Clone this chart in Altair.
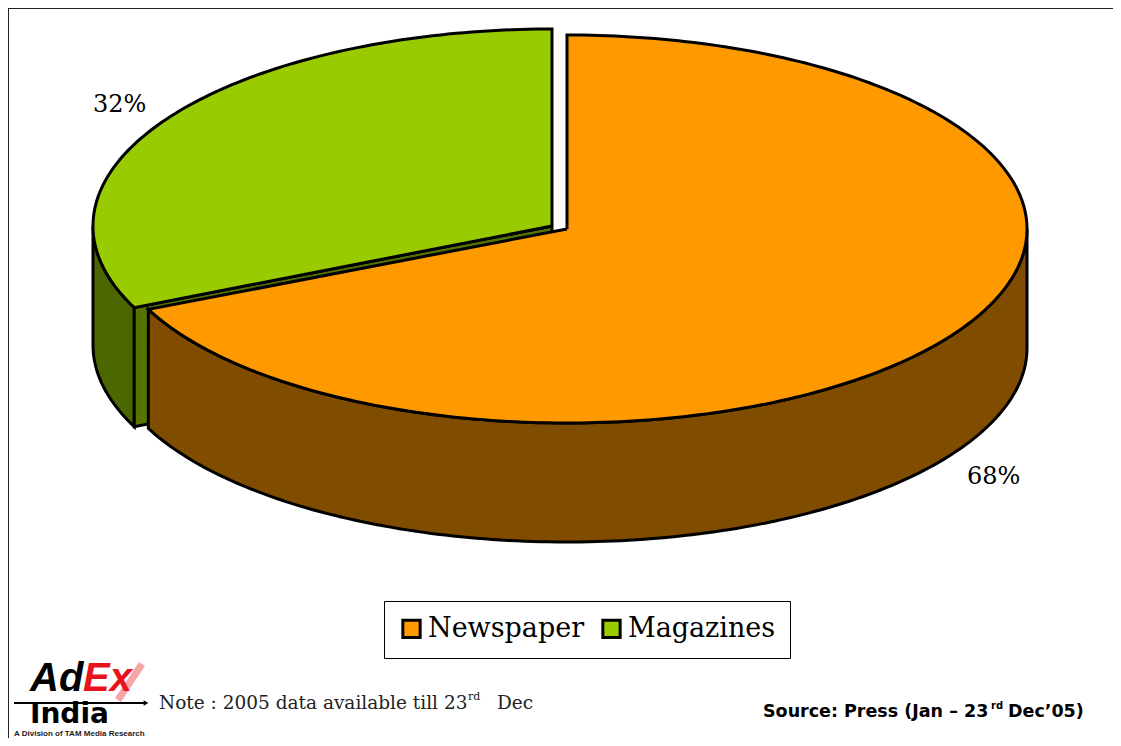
import math
import altair as alt
import pandas as pd

categories = ["Newspaper", "Magazines"]
shares = [68.2, 31.8]
top_colors = ["#FF9900", "#99CC00"]
wall_colors = ["#7F4C00", "#4C6600"]
cut_color = "#567300"

# pie geometry on the pixel-valued scales
news_c = (567, 229, 460, 194)
mag_c = (552, 226, 459, 197)
depth = 119
W, H = 1105, 730
xs = alt.Scale(domain=[8, 8 + W], nice=False, zero=False)
ys = alt.Scale(domain=[8 + H, 8], nice=False, zero=False)

cut = shares[0] * 3.6


def pt(c, deg, dy=0):
    r = math.radians(deg)
    return (c[0] + c[2] * math.sin(r), c[1] - c[3] * math.cos(r) + dy)


def arc(c, a, b, dy=0):
    n = max(2, int(abs(b - a)))
    return [pt(c, a + (b - a) * i / n, dy) for i in range(n + 1)]


polys = []
# green outer wall
polys.append((arc(mag_c, cut, 270) + arc(mag_c, 270, cut, depth), wall_colors[1], None))
# green cut face
polys.append(([(mag_c[0], mag_c[1]), pt(mag_c, cut), pt(mag_c, cut, depth), (mag_c[0], mag_c[1] + depth)], cut_color, None))
# brown outer wall
polys.append((arc(news_c, 90, cut) + arc(news_c, cut, 90, depth), wall_colors[0], None))
# orange top
polys.append(([(news_c[0], news_c[1])] + arc(news_c, 0, cut), None, categories[0]))
# green top
polys.append(([(mag_c[0], mag_c[1])] + arc(mag_c, cut, 360), None, categories[1]))

layers = []
fill_scale = alt.Scale(domain=categories, range=top_colors)
legend = alt.Legend(
    title=None, orient="none", legendX=376, legendY=593, direction="horizontal",
    symbolType="square", symbolSize=300, symbolStrokeColor="black", symbolStrokeWidth=3,
    symbolOpacity=1, symbolFillColor="#000000",
    labelFont="DejaVu Serif", labelFontSize=27, labelColor="black", labelLimit=300,
    strokeColor="black", fillColor="white", padding=14, columnPadding=11, labelOffset=3,
)
for i, (p, color, cat) in enumerate(polys):
    pts = p + [p[0]]
    df = pd.DataFrame({"x": [q[0] for q in pts], "y": [q[1] for q in pts], "i": range(len(pts)), "cat": cat or ""})
    enc = dict(
        x=alt.X("x:Q", scale=xs, axis=None),
        y=alt.Y("y:Q", scale=ys, axis=None),
        order=alt.Order("i:Q"),
        stroke=alt.value("black"),
        strokeWidth=alt.value(3),
    )
    if cat:
        enc["fill"] = alt.Fill("cat:N", scale=fill_scale, legend=legend)
    else:
        enc["fill"] = alt.value(color)
    layers.append(alt.Chart(df).mark_line(strokeJoin="miter").encode(**enc))

# frame
frame_x = [8, 8 + W]
frame_y = [8 + H, 8]
layers.append(alt.Chart(pd.DataFrame({"x": [8], "y": [frame_y[0]], "y2": [frame_y[1]]})).mark_rule(color="#222222", strokeWidth=2).encode(
    x=alt.X("x:Q", scale=xs, axis=None), y=alt.Y("y:Q", scale=ys, axis=None), y2="y2:Q"))
layers.append(alt.Chart(pd.DataFrame({"y": [8], "x": [frame_x[0]], "x2": [frame_x[1]]})).mark_rule(color="#222222", strokeWidth=2).encode(
    y=alt.Y("y:Q", scale=ys, axis=None), x=alt.X("x:Q", scale=xs, axis=None), x2="x2:Q"))

# logo marks
logo_arrow = pd.DataFrame({"x": [14], "x2": [146], "y": [703]})
logo_check = pd.DataFrame({"x": [118, 142], "y": [700, 664], "i": [0, 1]})
layers.append(alt.Chart(logo_check).mark_line(color="#F6A6A6", strokeWidth=7).encode(
    x=alt.X("x:Q", scale=xs, axis=None), y=alt.Y("y:Q", scale=ys, axis=None), order="i:Q"))

SERIF = "DejaVu Serif"
SANS = "DejaVu Sans"
LOGO = "Liberation Sans"
texts = [
    (f"{round(shares[1])}%", 93, 105, SERIF, 24, "normal", "normal", "black"),
    (f"{round(shares[0])}%", 967, 477, SERIF, 24, "normal", "normal", "black"),
    ("Note : 2005 data available till 23", 159, 703, SERIF, 18.5, "normal", "normal", "#222222"),
    ("rd", 468, 697, SERIF, 11, "normal", "normal", "#222222"),
    ("Dec", 497, 703, SERIF, 18.5, "normal", "normal", "#222222"),
    ("Source: Press (Jan – 23", 763, 712, SANS, 17.5, "bold", "normal", "black"),
    ("rd", 991, 706, SANS, 10, "bold", "normal", "black"),
    ("Dec’05)", 1008, 712, SANS, 17.5, "bold", "normal", "black"),
    ("Ad", 30, 679, LOGO, 40, "bold", "italic", "black"),
    ("Ex", 83, 679, LOGO, 40, "bold", "italic", "#E8141C"),
    ("India", 30, 715, SANS, 28, "bold", "normal", "black"),
    ("A Division of TAM Media Research", 14, 734, LOGO, 8, "bold", "normal", "#222222"),
]
for t, x, y, font, size, weight, style, color in texts:
    df = pd.DataFrame({"x": [x], "y": [y], "t": [t]})
    layers.append(alt.Chart(df).mark_text(
        align="left", baseline="middle", font=font, fontSize=size, fontWeight=weight,
        fontStyle=style, color=color,
    ).encode(x=alt.X("x:Q", scale=xs, axis=None), y=alt.Y("y:Q", scale=ys, axis=None), text="t:N"))

layers.append(alt.Chart(logo_arrow).mark_rule(color="black", strokeWidth=2).encode(
    x=alt.X("x:Q", scale=xs, axis=None), x2="x2:Q", y=alt.Y("y:Q", scale=ys, axis=None)))
layers.append(alt.Chart(pd.DataFrame({"x": [146], "y": [703]})).mark_point(
    shape="triangle-right", size=30, filled=True, color="black", opacity=1).encode(
    x=alt.X("x:Q", scale=xs, axis=None), y=alt.Y("y:Q", scale=ys, axis=None)))

chart = alt.layer(*layers).resolve_scale(fill="shared").properties(
    width=W, height=H, padding=0, background="white",
    autosize=alt.AutoSizeParams(type="none"),
).configure_view(stroke=None)
chart.save("out.html", embed_options={"renderer": "svg", "actions": False})
